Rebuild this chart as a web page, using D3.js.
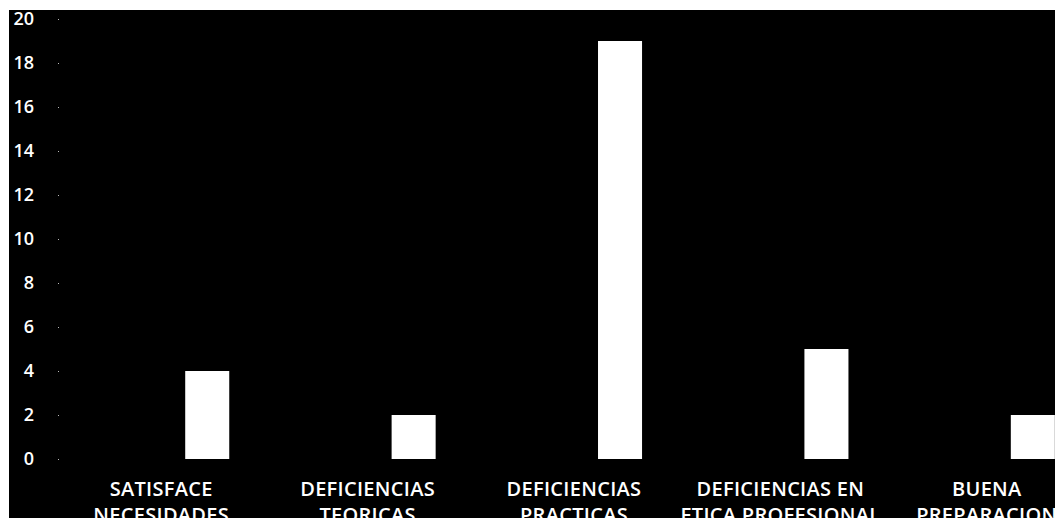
<!DOCTYPE html>
<html>
<head>
<meta charset="utf-8">
<script src="https://cdn.jsdelivr.net/npm/d3@7"></script>
<style>
  body { margin: 0; background: #fff; }
  svg { display: block; }
  .tick text { font-family: "Open Sans", sans-serif; font-weight: 600; }
</style>
</head>
<body>
<script>
// categories, two-line labels
const categories = ["SATISFACE NECESIDADES", "DEFICIENCIAS TEORICAS", "DEFICIENCIAS PRACTICAS",
  "DEFICIENCIAS EN ETICA PROFESIONAL", "BUENA PREPARACION"];
const labelLines = [
  ["SATISFACE", "NECESIDADES"],
  ["DEFICIENCIAS", "TEORICAS"],
  ["DEFICIENCIAS", "PRACTICAS"],
  ["DEFICIENCIAS EN", "ETICA PROFESIONAL"],
  ["BUENA", "PREPARACION"]
];
const counts = [4, 2, 19, 5, 2];
const yTicks = [0, 2, 4, 6, 8, 10, 12, 14, 16, 18, 20];
// the chart was a clustered one, the visible series sits in the third slot
const slots = ["s1", "s2", "s3"];

const W = 1055, H = 518;

const svg = d3.select("body").append("svg")
    .attr("width", W)
    .attr("height", H);

svg.append("rect")
    .attr("x", 9).attr("y", 10)
    .attr("width", W - 9).attr("height", H - 10)
    .attr("fill", "#000");

const x = d3.scaleBand()
    .domain(categories)
    .range([60, 1092])
    .paddingInner(0.36)
    .paddingOuter(0.18);

const xs = d3.scaleBand()
    .domain(slots)
    .range([0, x.bandwidth()]);

const y = d3.scaleLinear()
    .domain([0, 20])
    .range([459, 19]);

// y axis
const yAxis = svg.append("g")
    .attr("transform", "translate(59,0)")
    .call(d3.axisLeft(y).tickValues(yTicks).tickSize(1).tickPadding(24));
yAxis.select(".domain").remove();
yAxis.selectAll(".tick line").attr("stroke", "#bbb");
yAxis.selectAll(".tick text")
    .attr("fill", "#fff")
    .style("font-size", "18px");

// bars
svg.append("g").selectAll("rect")
    .data(counts)
    .enter().append("rect")
    .attr("x", (d, i) => x(categories[i]) + xs("s3"))
    .attr("width", xs.bandwidth())
    .attr("y", d => y(d))
    .attr("height", d => y(0) - y(d))
    .attr("fill", "#fff");

// category labels
const labelX = d => x(d) + x.bandwidth() / 2 - 2;
const lab = svg.append("g").selectAll("text")
    .data(categories)
    .enter().append("text")
    .attr("x", labelX)
    .attr("y", 496)
    .attr("text-anchor", "middle")
    .attr("fill", "#fff")
    .style("font-family", "'Open Sans', sans-serif")
    .style("font-weight", 600)
    .style("font-size", "20px")
    .style("letter-spacing", "0.3px");

lab.each(function (d, i) {
    const t = d3.select(this);
    labelLines[i].forEach((line, k) => {
        t.append("tspan")
            .attr("x", labelX(d))
            .attr("dy", k === 0 ? 0 : 26)
            .text(line);
    });
});
</script>
</body>
</html>
